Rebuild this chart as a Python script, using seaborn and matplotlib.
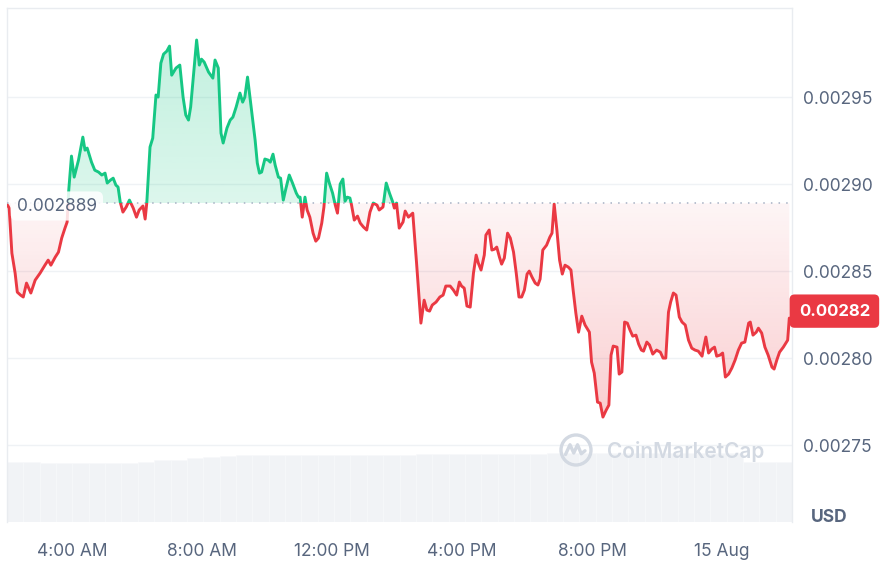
import matplotlib
matplotlib.use('Agg')
import matplotlib.pyplot as plt
import matplotlib.dates as mdates
import matplotlib.transforms as mtransforms
from matplotlib.patches import Rectangle, Circle
from matplotlib.path import Path
from matplotlib.colors import to_rgb
import numpy as np
import pandas as pd
import seaborn as sns

# minutes after midnight, 14 Aug
minutes = [
    121, 124, 129, 135, 139, 145, 150, 156, 164, 172,
    181, 190, 196, 201, 209, 215, 221, 227, 231, 234,
    239, 244, 252, 260, 264, 268, 276, 282, 289, 295,
    301, 305, 311, 316, 321, 325, 329, 334, 340, 346,
    353, 359, 364, 371, 375, 378, 384, 389, 395, 399,
    404, 409, 415, 420, 424, 432, 439, 445, 450, 455,
    459, 464, 470, 475, 479, 484, 492, 500, 504, 510,
    515, 519, 526, 532, 537, 543, 550, 555, 559, 564,
    572, 578, 582, 586, 590, 596, 602, 606, 611, 615,
    621, 625, 630, 635, 641, 647, 654, 658, 661, 665,
    670, 674, 679, 685, 690, 695, 701, 705, 710, 715,
    721, 726, 730, 735, 740, 744, 748, 753, 756, 761,
    767, 772, 778, 784, 790, 796, 803, 807, 814, 820,
    826, 832, 835, 839, 844, 851, 855, 861, 869, 876,
    884, 890, 895, 900, 905, 912, 919, 925, 930, 938,
    944, 950, 955, 959, 964, 969, 975, 981, 986, 990,
    995, 1001, 1004, 1010, 1015, 1020, 1024, 1029, 1033, 1038,
    1044, 1049, 1055, 1060, 1065, 1070, 1075, 1080, 1084, 1089,
    1095, 1100, 1104, 1109, 1116, 1122, 1126, 1130, 1135, 1140,
    1145, 1150, 1156, 1161, 1165, 1170, 1175, 1181, 1187, 1195,
    1199, 1204, 1210, 1215, 1220, 1226, 1231, 1235, 1239, 1246,
    1250, 1255, 1260, 1265, 1270, 1275, 1281, 1286, 1291, 1295,
    1301, 1306, 1312, 1319, 1326, 1331, 1336, 1341, 1345, 1350,
    1355, 1361, 1366, 1372, 1378, 1384, 1390, 1396, 1403, 1405,
    1410, 1415, 1421, 1426, 1430, 1436, 1441, 1446, 1452, 1458,
    1464, 1470, 1476, 1482, 1489, 1492, 1497, 1503, 1507, 1513,
    1519, 1525, 1532, 1536, 1541, 1546, 1553, 1561, 1564,
]

prices = [
    0.0028879, 0.0028862, 0.0028603, 0.0028488, 0.0028379, 0.0028362, 0.0028351, 0.0028431, 0.0028374, 0.0028448,
    0.0028488, 0.0028534, 0.0028563, 0.0028534, 0.0028580, 0.0028609, 0.0028690, 0.0028747, 0.0028782, 0.0028966,
    0.0029161, 0.0029040, 0.0029138, 0.0029270, 0.0029195, 0.0029207, 0.0029126, 0.0029080, 0.0029069, 0.0029052,
    0.0029063, 0.0029006, 0.0029023, 0.0029034, 0.0028994, 0.0028983, 0.0028897, 0.0028839, 0.0028868, 0.0028908,
    0.0028862, 0.0028810, 0.0028851, 0.0028874, 0.0028799, 0.0028891, 0.0029213, 0.0029264, 0.0029512, 0.0029500,
    0.0029695, 0.0029747, 0.0029764, 0.0029793, 0.0029626, 0.0029667, 0.0029684, 0.0029500, 0.0029397, 0.0029368,
    0.0029443, 0.0029615, 0.0029828, 0.0029684, 0.0029718, 0.0029701, 0.0029644, 0.0029609, 0.0029713, 0.0029667,
    0.0029293, 0.0029236, 0.0029322, 0.0029368, 0.0029385, 0.0029443, 0.0029523, 0.0029471, 0.0029500, 0.0029615,
    0.0029408, 0.0029253, 0.0029121, 0.0029063, 0.0029069, 0.0029144, 0.0029138, 0.0029126, 0.0029172, 0.0029109,
    0.0029040, 0.0029034, 0.0028908, 0.0028977, 0.0029052, 0.0029006, 0.0028948, 0.0028925, 0.0028925, 0.0028810,
    0.0028925, 0.0028851, 0.0028810, 0.0028718, 0.0028672, 0.0028690, 0.0028776, 0.0028868, 0.0029063, 0.0029006,
    0.0028948, 0.0028879, 0.0028833, 0.0029000, 0.0029029, 0.0028902, 0.0028925, 0.0028920, 0.0028879, 0.0028793,
    0.0028816, 0.0028776, 0.0028753, 0.0028736, 0.0028839, 0.0028891, 0.0028879, 0.0028851, 0.0028868, 0.0029006,
    0.0028948, 0.0028897, 0.0028862, 0.0028891, 0.0028747, 0.0028782, 0.0028845, 0.0028810, 0.0028833, 0.0028546,
    0.0028201, 0.0028333, 0.0028276, 0.0028270, 0.0028305, 0.0028322, 0.0028351, 0.0028362, 0.0028414, 0.0028414,
    0.0028391, 0.0028362, 0.0028437, 0.0028414, 0.0028402, 0.0028299, 0.0028293, 0.0028488, 0.0028592, 0.0028546,
    0.0028506, 0.0028592, 0.0028707, 0.0028736, 0.0028621, 0.0028626, 0.0028638, 0.0028580, 0.0028540, 0.0028575,
    0.0028718, 0.0028690, 0.0028609, 0.0028488, 0.0028351, 0.0028351, 0.0028391, 0.0028483, 0.0028500, 0.0028466,
    0.0028431, 0.0028420, 0.0028454, 0.0028621, 0.0028649, 0.0028695, 0.0028718, 0.0028885, 0.0028736, 0.0028563,
    0.0028483, 0.0028534, 0.0028523, 0.0028506, 0.0028391, 0.0028259, 0.0028149, 0.0028241, 0.0028190, 0.0028149,
    0.0027977, 0.0027914, 0.0027747, 0.0027741, 0.0027661, 0.0027701, 0.0027730, 0.0028017, 0.0028069, 0.0028063,
    0.0027908, 0.0027920, 0.0028207, 0.0028201, 0.0028161, 0.0028126, 0.0028132, 0.0028080, 0.0028046, 0.0028040,
    0.0028092, 0.0028075, 0.0028023, 0.0028046, 0.0028034, 0.0028000, 0.0028000, 0.0028264, 0.0028322, 0.0028374,
    0.0028362, 0.0028236, 0.0028207, 0.0028190, 0.0028103, 0.0028057, 0.0028046, 0.0028040, 0.0028011, 0.0028046,
    0.0028121, 0.0028029, 0.0028052, 0.0028063, 0.0028011, 0.0028017, 0.0028029, 0.0027891, 0.0027908, 0.0027943,
    0.0027989, 0.0028046, 0.0028086, 0.0028092, 0.0028201, 0.0028207, 0.0028132, 0.0028149, 0.0028172, 0.0028144,
    0.0028063, 0.0028017, 0.0027948, 0.0027937, 0.0027989, 0.0028034, 0.0028063, 0.0028103, 0.0028230,
]

# volume bars, one per half hour (relative height)
volume = [
    60, 60, 59, 59, 59, 59, 59, 59, 60, 62,
    62, 64, 65, 66, 67, 67, 67, 67, 67, 67,
    67, 67, 67, 67, 67, 68, 68, 68, 68, 68,
    68, 68, 68, 69, 69, 69, 69, 69, 69, 69,
    69, 69, 69, 69, 69, 60, 60, 60,
]

base_price = 0.002889
base_label = '0.002889'
last_label = '0.00282'
price_ticks = [0.00275, 0.00280, 0.00285, 0.00290, 0.00295]
tick_hours = [4, 8, 12, 16, 20, 24]
tick_labels = ['4:00 AM', '8:00 AM', '12:00 PM', '4:00 PM', '8:00 PM', '15 Aug']

GREEN = '#16c784'
RED = '#ea3943'
GREY = '#58667e'
LIGHT = '#eff2f5'

sns.set_theme(style='white')
plt.rcParams['font.family'] = ['Inter', 'DejaVu Sans']

day0 = pd.Timestamp('2024-08-14')
df = pd.DataFrame({'time': day0 + pd.to_timedelta(minutes, unit='m'),
                   'price': prices})

fig = plt.figure(figsize=(8.8, 5.62), dpi=100)
rect = [7 / 880, 40 / 562, 785 / 880, 514 / 562]

# volume underneath
ax_vol = fig.add_axes(rect, zorder=0)
vol_df = pd.DataFrame({'slot': range(len(volume)), 'volume': volume})
sns.barplot(data=vol_df, x='slot', y='volume', color='#f1f3f6', saturation=1,
            width=1.0, edgecolor='#f8f9fb', linewidth=0.4, ax=ax_vol)
ax_vol.set_xlim(-0.5, len(volume) - 0.5)
ax_vol.set_ylim(0, 514)
ax_vol.axis('off')

ax = fig.add_axes(rect, zorder=1)
ax.patch.set_alpha(0)

sns.lineplot(data=df, x='time', y='price', color=GREEN, lw=2.1, ax=ax, zorder=4)
sns.lineplot(data=df, x='time', y='price', color=RED, lw=2.1, ax=ax, zorder=4)
g_line, r_line = ax.lines[-2], ax.lines[-1]
trans = mtransforms.blended_transform_factory(ax.transAxes, ax.transData)
g_line.set_clip_path(Rectangle((0, base_price), 1, 0.01, transform=trans))
r_line.set_clip_path(Rectangle((0, base_price - 0.01), 1, 0.01, transform=trans))

# gradient fills between the line and the open price
t_num = mdates.date2num(df['time'])
p = np.array(prices)


def gradient_fill(mask, color, a_near, a_far, y_far):
    coll = ax.fill_between(t_num, p, base_price, where=mask, interpolate=True,
                           facecolor='none', edgecolor='none')
    path = Path.make_compound_path(*coll.get_paths())
    img = np.zeros((256, 1, 4))
    img[:, 0, :3] = to_rgb(color)
    lo, hi = sorted([base_price, y_far])
    if y_far > base_price:
        img[:, 0, 3] = np.linspace(a_near, a_far, 256)
    else:
        img[:, 0, 3] = np.linspace(a_far, a_near, 256)
    im = ax.imshow(img, extent=[t_num[0], t_num[-1], lo, hi], origin='lower',
                   aspect='auto', interpolation='bilinear', zorder=2)
    im.set_clip_path(path, transform=ax.transData)


gradient_fill(p >= base_price, GREEN, 0.15, 0.28, 0.00300)
gradient_fill(p <= base_price, RED, 0.05, 0.26, 0.00276)

ax.axhline(base_price, color='#a6b0c3', lw=1.1, ls=(0, (1, 4)), zorder=3)

ax.set_xlim(day0 + pd.Timedelta(minutes=120), day0 + pd.Timedelta(minutes=1569))
ax.set_ylim(0.0027058, 0.0030012)

ax.set_yticks(price_ticks)
ax.set_yticklabels([f'{v:.5f}' for v in price_ticks])
ax.yaxis.tick_right()
ax.yaxis.grid(True, color=LIGHT, lw=1)
ax.set_axisbelow(True)
ax.set_xticks([day0 + pd.Timedelta(hours=h) for h in tick_hours])
ax.set_xticklabels(tick_labels)
ax.tick_params(axis='y', length=0, pad=8, labelsize=12.5, labelcolor=GREY)
ax.tick_params(axis='x', length=0, pad=15, labelsize=12.5, labelcolor=GREY)
ax.set_xlabel('')
ax.set_ylabel('')
for s in ['left', 'right', 'top']:
    ax.spines[s].set_color('#e9ecf0')
    ax.spines[s].set_linewidth(1)
ax.spines['bottom'].set_visible(False)

ax.annotate(base_label, xy=(0.0125, base_price), xycoords=trans,
            xytext=(0, -2), textcoords='offset points', ha='left', va='center',
            fontsize=12.5, color=GREY, zorder=6,
            bbox=dict(boxstyle='round,pad=0.35', fc='white', ec='none', alpha=0.85))

ax.annotate(last_label, xy=(1.054, prices[-1]), xycoords=trans,
            xytext=(0, 5), textcoords='offset points', ha='center', va='center',
            fontsize=12, fontweight='bold', color='white', annotation_clip=False,
            bbox=dict(boxstyle='round,pad=0.55,rounding_size=0.3', fc=RED, ec='none'))

fig.text(829 / 880, 1 - 517 / 562, 'USD', ha='center', va='center',
         fontsize=12.5, fontweight='bold', color=GREY)

# watermark
fig.text(607 / 880, 1 - 452 / 562, 'CoinMarketCap', ha='left', va='center',
         fontsize=15, fontweight='semibold', color='#d3d9e2', zorder=5)
logo = fig.add_axes([558 / 880, 1 - 468 / 562, 36 / 880, 36 / 562], zorder=5)
logo.set_xlim(-1.2, 1.2)
logo.set_ylim(-1.2, 1.2)
logo.axis('off')
logo.add_patch(Circle((0, 0), 1, fill=False, ec='#d3d9e2', lw=2.4))
logo.plot([-0.7, -0.4, -0.15, 0.1, 0.35, 0.6], [-0.3, 0.35, -0.2, 0.35, -0.25, -0.05],
          color='#d3d9e2', lw=2.4, solid_joinstyle='round')

fig.savefig('out.png', dpi=100)
